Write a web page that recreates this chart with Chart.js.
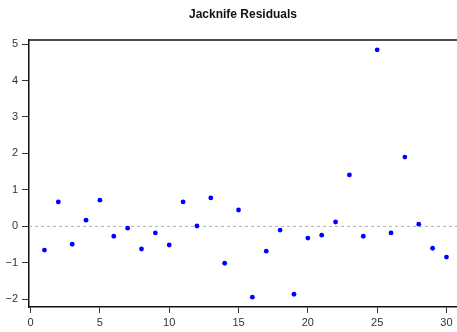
<!DOCTYPE html>
<html>
<head>
<meta charset="utf-8">
<script src="https://cdn.jsdelivr.net/npm/chart.js@4"></script>
<style>
  html, body { margin: 0; padding: 0; background: #fff; }
  #wrap { width: 457px; height: 332px; }
</style>
</head>
<body>
<div id="wrap"><canvas id="residChart" width="457" height="332"></canvas></div>
<script>
const obsIndex = [1, 2, 3, 4, 5, 6, 7, 8, 9, 10, 11, 12, 13, 14, 15,
                  16, 17, 18, 19, 20, 21, 22, 23, 24, 25, 26, 27, 28, 29, 30];
const residuals = [-0.65, 0.67, -0.49, 0.17, 0.72, -0.27, -0.05, -0.62, -0.18, -0.51,
                   0.67, 0.01, 0.78, -1.01, 0.45, -1.94, -0.68, -0.10, -1.86, -0.32,
                   -0.24, 0.12, 1.41, -0.27, 4.84, -0.18, 1.90, 0.06, -0.60, -0.84];
const xTicks = [0, 5, 10, 15, 20, 25, 30];
const yTicks = [-2, -1, 0, 1, 2, 3, 4, 5];

const points = obsIndex.map((x, i) => ({ x: x, y: residuals[i] }));

// dashed zero line + top frame line
const refLines = {
    id: 'refLines',
    beforeDatasetsDraw(chart) {
        const { ctx, chartArea, scales } = chart;
        const y0 = scales.y.getPixelForValue(0);
        ctx.save();
        ctx.strokeStyle = '#b0b0b0';
        ctx.lineWidth = 1;
        ctx.setLineDash([3, 3]);
        ctx.beginPath();
        ctx.moveTo(chartArea.left, y0);
        ctx.lineTo(chartArea.right, y0);
        ctx.stroke();
        ctx.setLineDash([]);
        ctx.strokeStyle = '#111';
        ctx.lineWidth = 1.5;
        ctx.beginPath();
        ctx.moveTo(chartArea.left, chartArea.top);
        ctx.lineTo(chartArea.right, chartArea.top);
        ctx.stroke();
        ctx.restore();
    }
};

const fmt = v => (v < 0 ? '\u2212' + Math.abs(v) : String(v));

new Chart(document.getElementById('residChart').getContext('2d'), {
    type: 'scatter',
    data: {
        datasets: [{
            label: 'Jacknife Residuals',
            data: points,
            backgroundColor: '#0000ff',
            borderWidth: 0,
            pointRadius: 2.4
        }]
    },
    options: {
        responsive: false,
        animation: false,
        layout: { autoPadding: false, padding: 0 },
        plugins: {
            legend: { display: false },
            tooltip: { enabled: false },
            title: {
                display: true,
                fullSize: false,
                text: 'Jacknife Residuals',
                color: '#111',
                font: { family: 'Liberation Sans, Arial, sans-serif', size: 12, weight: 'bold' },
                padding: { top: 7, bottom: 18.6 }
            }
        },
        scales: {
            x: {
                type: 'linear',
                min: -0.115,
                max: 30.76,
                afterBuildTicks: s => { s.ticks = xTicks.map(v => ({ value: v })); },
                afterFit: s => { s.height = 25; s.paddingLeft = 0; s.paddingRight = 0; },
                grid: { drawOnChartArea: false, drawTicks: true, tickLength: 6, tickColor: '#333', tickWidth: 1 },
                border: { display: true, color: '#111', width: 1.5 },
                ticks: {
                    color: '#333',
                    padding: 3,
                    maxRotation: 0,
                    font: { family: 'Liberation Sans, Arial, sans-serif', size: 11 },
                    callback: v => fmt(v)
                }
            },
            y: {
                type: 'linear',
                min: -2.21,
                max: 5.11,
                afterBuildTicks: s => { s.ticks = yTicks.map(v => ({ value: v })); },
                afterFit: s => { s.width = 29; s.paddingTop = 0; s.paddingBottom = 0; },
                grid: { drawOnChartArea: false, drawTicks: true, tickLength: 7, tickColor: '#333', tickWidth: 1 },
                border: { display: true, color: '#111', width: 1.5 },
                ticks: {
                    color: '#333',
                    padding: 4,
                    font: { family: 'Liberation Sans, Arial, sans-serif', size: 11 },
                    callback: v => fmt(v)
                }
            }
        }
    },
    plugins: [refLines]
});
</script>
</body>
</html>
